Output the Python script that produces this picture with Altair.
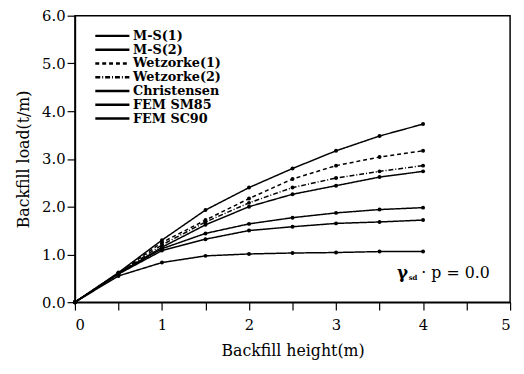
import altair as alt
import pandas as pd

heights = [0, 0.5, 1, 1.5, 2, 2.5, 3, 3.5, 4]
series_names = ["M-S(1)", "M-S(2)", "Wetzorke(1)", "Wetzorke(2)", "Christensen", "FEM SM85", "FEM SC90"]
ms1 = [0, 0.62, 1.30, 1.93, 2.40, 2.80, 3.17, 3.48, 3.73]
ms2 = [0, 0.60, 1.15, 1.62, 2.00, 2.26, 2.44, 2.62, 2.74]
wet1 = [0, 0.61, 1.25, 1.72, 2.17, 2.58, 2.86, 3.04, 3.17]
wet2 = [0, 0.60, 1.20, 1.68, 2.08, 2.40, 2.60, 2.74, 2.86]
christ = [0, 0.55, 0.83, 0.97, 1.01, 1.03, 1.04, 1.06, 1.06]
sm85 = [0, 0.60, 1.12, 1.44, 1.64, 1.77, 1.87, 1.94, 1.98]
sc90 = [0, 0.59, 1.08, 1.32, 1.50, 1.58, 1.65, 1.68, 1.72]

values = [ms1, ms2, wet1, wet2, christ, sm85, sc90]
dashes = [[1, 0], [1, 0], [4, 3], [5, 2, 1, 2], [1, 0], [1, 0], [1, 0]]

rows = []
for name, vals in zip(series_names, values):
    for h, v in zip(heights, vals):
        rows.append({"series": name, "h": h, "load": v})
df = pd.DataFrame(rows)

font = "DejaVu Serif"

x_scale = alt.Scale(domain=[0, 5], nice=False)
y_scale = alt.Scale(domain=[0, 6], nice=False)

x_axis = alt.Axis(
    values=[0, 0.5, 1, 1.5, 2, 2.5, 3, 3.5, 4, 4.5, 5],
    labelExpr="datum.value % 1 == 0 ? format(datum.value, 'd') : ''",
    title="Backfill height(m)", grid=False, labelPadding=8, titlePadding=10,
)
y_axis = alt.Axis(
    values=[0, 0.5, 1, 1.5, 2, 2.5, 3, 3.5, 4, 4.5, 5, 5.5, 6],
    labelExpr="datum.value % 1 == 0 ? format(datum.value, '.1f') : ''",
    title="Backfill load(t/m)", grid=False, labelPadding=2, titlePadding=10,
)

lines = alt.Chart(df).mark_line(strokeWidth=1.5, point=alt.OverlayMarkDef(size=16, filled=True, color="black")).encode(
    x=alt.X("h:Q", scale=x_scale, axis=x_axis),
    y=alt.Y("load:Q", scale=y_scale, axis=y_axis),
    color=alt.Color("series:N", sort=series_names,
                    scale=alt.Scale(domain=series_names, range=["black"] * 7),
                    legend=alt.Legend(title=None, orient="none", legendX=19, legendY=16,
                                      symbolType="stroke", symbolStrokeWidth=2.5,
                                      symbolSize=1200, clipHeight=9, rowPadding=0,
                                      labelFont=font, labelFontWeight="bold",
                                      labelFontSize=13, labelOffset=2, padding=0,
                                      labelColor="black")),
    strokeDash=alt.StrokeDash("series:N", sort=series_names,
                              scale=alt.Scale(domain=series_names, range=dashes), legend=None),
)

ann_text = ["γ", "sd", "· p = 0.0"]
ann_x = [3.70, 3.835, 3.98]
ann_y = [0.6, 0.5, 0.6]
ann_size = [17, 7, 16]
ann_weight = ["bold", "bold", "normal"]
ann = pd.DataFrame({"t": ann_text, "x": ann_x, "y": ann_y})

ann_layers = []
for i in range(3):
    ann_layers.append(
        alt.Chart(ann.iloc[[i]]).mark_text(align="left", baseline="middle", font=font,
                                           fontSize=ann_size[i], fontWeight=ann_weight[i], color="black").encode(
            x=alt.X("x:Q", scale=x_scale), y=alt.Y("y:Q", scale=y_scale), text="t:N")
    )

chart = alt.layer(lines, *ann_layers).properties(
    width=442, height=291, background="white",
    autosize=alt.AutoSizeParams(type="none"),
    padding={"left": 68, "top": 5, "right": 6, "bottom": 62},
).configure_view(
    stroke="black", strokeWidth=1.5
).configure_axis(
    labelFont=font, titleFont=font, labelFontSize=15, titleFontSize=16, titleFontWeight="normal",
    labelColor="black", titleColor="black", domainColor="black", tickColor="black",
    domainWidth=1.5, tickWidth=1.2, tickSize=8,
)

chart.save("out.html", embed_options={"renderer": "svg", "actions": False})
